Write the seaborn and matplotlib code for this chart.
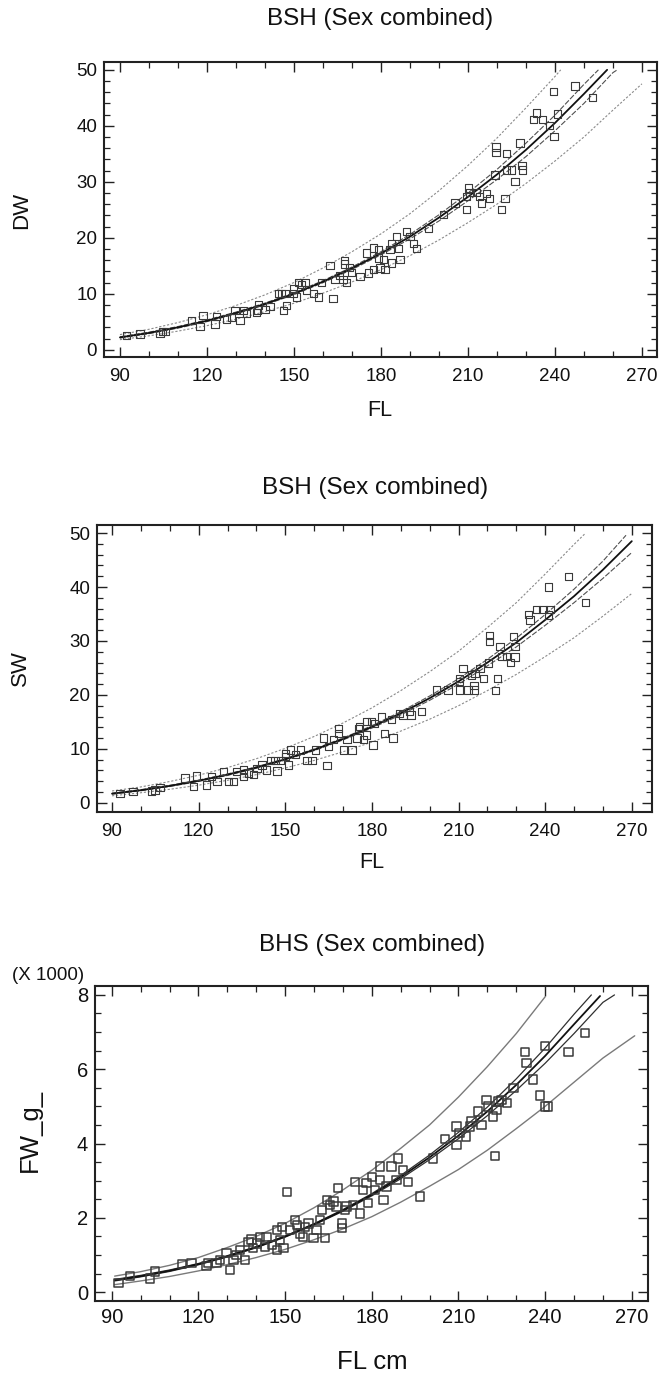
import matplotlib
matplotlib.use("Agg")
import matplotlib.pyplot as plt
from matplotlib.ticker import MultipleLocator
import numpy as np
import pandas as pd
import seaborn as sns

# ---------------- data: panel 1 (BSH, DW vs FL) ----------------
p1_fl = [92.3, 96.9, 103.8, 104.7, 105.8, 114.7, 117.6, 118.7, 122.8, 123.3, 126.8, 128.5,
         129.7, 131.4, 132.5, 133.7, 137.2, 137.4, 137.7, 140.0, 141.7, 144.6, 145.7, 146.9,
         146.5, 147.5, 149.8, 149.8, 150.9, 151.5, 152.6, 153.8, 154.4, 156.7, 158.4, 159.5,
         162.4, 163.5, 164.1, 165.8, 166.9, 167.5, 167.5, 168.1, 169.2, 169.8,
         172.8, 175.1, 175.6, 177.4, 177.4, 179.1, 179.1, 179.7, 180.9, 181.4, 183.1, 183.7,
         183.7, 185.4, 186.0, 186.6, 188.9, 190.0, 191.2, 192.3, 196.3, 201.5, 205.5, 209.5,
         209.5, 210.1, 210.7, 213.0, 214.1, 214.7, 216.4, 217.4, 219.3, 219.7, 219.7, 221.6,
         222.8, 223.3, 223.3, 225.1, 226.2, 228.0, 228.7, 228.9, 232.5, 233.7, 235.8, 238.1,
         239.5, 239.7, 240.8, 246.9, 253.0]
p1_dw = [2.5, 2.8, 2.9, 3.2, 3.3, 5.2, 4.2, 6.1, 4.6, 5.9, 5.5, 5.8,
         7.0, 5.2, 7.0, 6.5, 6.6, 7.1, 8.0, 7.2, 7.7, 10.0, 10.0, 10.0,
         7.0, 7.9, 10.9, 10.0, 9.4, 12.0, 11.7, 12.0, 10.7, 10.0, 9.4, 12.0,
         15.0, 9.1, 12.6, 13.3, 12.6, 15.9, 15.3, 12.0, 14.7, 13.8,
         13.1, 17.3, 13.7, 14.3, 18.2, 17.9, 16.4, 14.6, 16.1, 14.3, 17.9, 19.0,
         15.5, 20.2, 18.1, 16.1, 21.1, 20.2, 19.0, 18.1, 21.7, 24.1, 26.2, 25.1,
         27.4, 28.9, 28.1, 28.1, 27.4, 26.2, 27.9, 27.0, 31.2, 36.2, 35.2, 25.0,
         27.0, 32.1, 35.1, 32.1, 30.0, 36.9, 32.9, 32.1, 41.1, 42.3, 41.1, 40.0,
         46.1, 38.1, 42.1, 47.1, 45.1]

p1_fit_fl = [90, 100, 110, 120, 130, 140, 150, 160, 170, 180, 190, 200, 210, 220, 230, 240, 250, 258]
p1_fit = [2.2, 3.0, 4.0, 5.17, 6.56, 8.17, 10.0, 12.15, 14.55, 17.2, 20.2, 23.6, 27.3, 31.3, 35.7, 40.5, 45.7, 50.0]
p1_uconf_fl = [90, 100, 110, 120, 130, 140, 150, 160, 170, 180, 190, 200, 210, 220, 230, 240, 250, 255]
p1_uconf = [2.31, 3.13, 4.14, 5.32, 6.72, 8.33, 10.17, 12.33, 14.77, 17.5, 20.6, 24.1, 28.0, 32.2, 36.9, 41.9, 47.4, 50.0]
p1_lconf_fl = [90, 100, 110, 120, 130, 140, 150, 160, 170, 180, 190, 200, 210, 220, 230, 240, 250, 260, 261.5]
p1_lconf = [2.09, 2.87, 3.86, 5.02, 6.40, 8.01, 9.85, 11.97, 14.33, 16.95, 19.8, 23.0, 26.6, 30.4, 34.5, 39.1, 44.0, 49.5, 50.0]
p1_upred_fl = [90, 100, 110, 120, 130, 140, 150, 160, 170, 180, 190, 200, 210, 220, 230, 240, 242]
p1_upred = [2.7, 3.65, 4.85, 6.25, 7.9, 9.8, 12.0, 14.6, 17.5, 20.7, 24.3, 28.4, 32.9, 37.8, 43.2, 48.8, 50.0]
p1_lpred_fl = [90, 100, 110, 120, 130, 140, 150, 160, 170, 180, 190, 200, 210, 220, 230, 240, 250, 260, 270]
p1_lpred = [1.8, 2.48, 3.32, 4.3, 5.45, 6.8, 8.3, 10.1, 12.1, 14.3, 16.8, 19.6, 22.7, 26.0, 29.7, 33.7, 38.0, 42.8, 47.5]

# ---------------- data: panel 2 (BSH, SW vs FL) ----------------
p2_fl = [92.8, 97.3, 103.7, 104.9, 106.6, 115.3, 118.2, 119.3, 122.8, 124.5, 126.3, 128.6,
         130.3, 132.0, 133.2, 135.5, 135.5, 137.2, 139.0, 140.2, 141.9, 143.6, 144.8, 146.5,
         147.1, 148.3, 150.0, 150.0, 151.2, 151.7, 153.5, 155.2, 157.5, 159.3, 160.4, 163.3,
         164.4, 165.0, 166.7, 168.5, 168.5, 170.2, 171.4, 173.1, 174.8, 175.4,
         175.8, 177.0, 178.1, 180.4, 178.1, 179.8, 181.0, 183.3, 184.4, 186.7, 187.3, 189.6,
         190.8, 193.6, 193.1, 197.1, 202.3, 206.3, 210.4, 210.4, 210.4, 211.6, 213.3, 215.4,
         214.6, 215.7, 215.4, 217.4, 218.6, 220.3, 220.7, 220.7, 222.7, 223.6, 224.4, 225.0,
         226.7, 227.9, 229.0, 229.6, 229.6, 234.2, 234.8, 237.1, 239.2, 241.7, 241.2, 241.2,
         248.1, 253.9]
p2_sw = [1.7, 2.1, 2.2, 2.4, 2.8, 4.6, 3.0, 5.0, 3.3, 4.9, 4.0, 5.8,
         4.0, 4.0, 5.8, 6.1, 4.9, 5.5, 5.2, 6.4, 7.0, 6.1, 7.9, 7.9,
         5.9, 7.9, 9.2, 8.6, 7.0, 9.8, 8.9, 9.8, 7.9, 7.9, 9.8, 12.0,
         6.9, 10.5, 11.7, 13.8, 12.9, 9.8, 11.7, 9.8, 12.0, 13.8,
         14.1, 11.7, 12.6, 10.7, 15.1, 15.1, 14.7, 15.9, 12.9, 15.4, 12.0, 16.6,
         16.3, 16.3, 16.9, 16.9, 20.9, 20.9, 20.9, 22.5, 23.1, 24.9, 20.9, 20.9,
         23.7, 24.0, 21.8, 24.9, 23.1, 25.9, 31.0, 29.9, 20.8, 23.1, 29.0, 27.1,
         27.1, 26.0, 30.8, 29.0, 27.0, 34.9, 33.9, 35.8, 35.8, 35.8, 34.8, 40.0,
         41.9, 37.1]

p2_fit_fl = [90, 100, 110, 120, 130, 140, 150, 160, 170, 180, 190, 200, 210, 220, 230, 240, 250, 260, 270]
p2_fit = [1.7, 2.34, 3.14, 4.09, 5.22, 6.54, 8.07, 9.83, 11.83, 14.08, 16.6, 19.4, 22.5, 26.0, 29.7, 33.9, 38.3, 43.2, 48.5]
p2_uconf_fl = [90, 100, 110, 120, 130, 140, 150, 160, 170, 180, 190, 200, 210, 220, 230, 240, 250, 260, 268]
p2_uconf = [1.79, 2.44, 3.25, 4.21, 5.35, 6.67, 8.2, 9.98, 12.0, 14.3, 16.9, 19.8, 23.0, 26.6, 30.5, 34.9, 39.6, 44.8, 49.6]
p2_lconf_fl = [90, 100, 110, 120, 130, 140, 150, 160, 170, 180, 190, 200, 210, 220, 230, 240, 250, 260, 270]
p2_lconf = [1.61, 2.24, 3.03, 3.97, 5.09, 6.41, 7.94, 9.68, 11.66, 13.86, 16.3, 19.0, 22.0, 25.4, 28.9, 32.9, 37.1, 41.6, 46.4]
p2_upred_fl = [90, 100, 110, 120, 130, 140, 150, 160, 170, 180, 190, 200, 210, 220, 230, 240, 250, 254]
p2_upred = [2.2, 2.95, 3.95, 5.12, 6.53, 8.18, 10.1, 12.3, 14.8, 17.6, 20.8, 24.3, 28.1, 32.5, 37.1, 42.4, 47.9, 50.0]
p2_lpred_fl = [90, 100, 110, 120, 130, 140, 150, 160, 170, 180, 190, 200, 210, 220, 230, 240, 250, 260, 270]
p2_lpred = [1.3, 1.87, 2.51, 3.27, 4.18, 5.23, 6.46, 7.86, 9.46, 11.26, 13.3, 15.5, 18.0, 20.8, 23.8, 27.1, 30.6, 34.6, 38.8]

# ---------------- data: panel 3 (BHS, FW_g_ (x1000) vs FL cm) ----------------
p3_fl = [92.3, 96.3, 103.2, 104.9, 114.2, 117.6, 122.8, 123.4, 126.3, 127.5, 129.7, 130.9,
         132.1, 133.2, 134.4, 136.1, 137.3, 138.4, 139.0, 140.2, 141.3, 143.1, 143.6, 145.4,
         147.1, 147.1, 148.3, 149.4, 148.9, 150.6, 151.7, 153.5, 154.0, 155.2, 156.3, 156.9,
         158.1, 159.8, 160.9, 162.1, 162.7, 163.8, 164.4, 165.5, 166.7, 167.8, 168.4, 169.6,
         169.6, 170.7, 171.3, 173.6, 174.2,
         175.9, 177.0, 178.2, 178.8, 180.0, 181.1, 182.9, 182.9, 184.0, 185.1, 186.8, 189.1,
         188.6, 190.9, 192.6, 196.6, 201.2, 205.3, 209.3, 209.3, 210.4, 212.7, 213.9, 214.5,
         216.8, 218.0, 219.7, 220.3, 222.0, 222.6, 223.2, 223.8, 224.9, 226.7, 229.0, 233.0,
         233.6, 235.9, 238.2, 240.0, 240.0, 241.1, 248.1, 253.9]
p3_fw = [0.25, 0.43, 0.37, 0.55, 0.76, 0.79, 0.70, 0.79, 0.78, 0.86, 1.06, 0.59,
         0.86, 0.99, 1.13, 0.86, 1.35, 1.42, 1.18, 1.31, 1.49, 1.22, 1.49, 1.26,
         1.67, 1.13, 1.40, 1.18, 1.76, 2.70, 1.67, 1.94, 1.81, 1.58, 1.49, 1.76,
         1.85, 1.45, 1.67, 1.94, 2.21, 1.45, 2.48, 2.35, 2.44, 2.30, 2.80, 1.85,
         1.72, 2.21, 2.30, 2.35, 2.97,
         2.12, 2.75, 2.93, 2.39, 3.10, 2.75, 3.38, 3.02, 2.48, 2.84, 3.38, 3.60,
         3.02, 3.29, 2.97, 2.57, 3.60, 4.12, 4.46, 3.96, 4.28, 4.19, 4.46, 4.59,
         4.86, 4.50, 5.18, 5.00, 4.73, 3.66, 4.91, 5.13, 5.18, 5.09, 5.49, 6.47,
         6.16, 5.72, 5.29, 6.63, 5.00, 5.00, 6.47, 6.97]

p3_fit_fl = [91, 100, 110, 120, 130, 140, 150, 160, 170, 180, 190, 200, 210, 220, 230, 240, 250, 259]
p3_fit = [0.32, 0.429, 0.575, 0.752, 0.962, 1.209, 1.495, 1.824, 2.198, 2.621, 3.097, 3.627, 4.213, 4.864, 5.577, 6.358, 7.21, 7.97]
p3_uconf_fl = [91, 100, 110, 120, 130, 140, 150, 160, 170, 180, 190, 200, 210, 220, 230, 240, 250, 256]
p3_uconf = [0.34, 0.45, 0.595, 0.77, 0.98, 1.225, 1.51, 1.84, 2.22, 2.65, 3.14, 3.69, 4.3, 4.98, 5.74, 6.57, 7.48, 8.0]
p3_lconf_fl = [91, 100, 110, 120, 130, 140, 150, 160, 170, 180, 190, 200, 210, 220, 230, 240, 250, 260, 264]
p3_lconf = [0.30, 0.41, 0.555, 0.735, 0.945, 1.193, 1.48, 1.808, 2.175, 2.59, 3.05, 3.565, 4.13, 4.75, 5.43, 6.16, 6.96, 7.80, 8.0]
p3_upred_fl = [91, 100, 110, 120, 130, 140, 150, 160, 170, 180, 190, 200, 210, 220, 230, 240]
p3_upred = [0.43, 0.55, 0.72, 0.93, 1.2, 1.5, 1.85, 2.27, 2.75, 3.28, 3.87, 4.5, 5.25, 6.07, 6.96, 7.95]
p3_lpred_fl = [91, 100, 110, 120, 130, 140, 150, 160, 170, 180, 190, 200, 210, 220, 230, 240, 250, 260, 271]
p3_lpred = [0.2, 0.3, 0.42, 0.57, 0.74, 0.93, 1.15, 1.41, 1.7, 2.03, 2.42, 2.85, 3.3, 3.82, 4.4, 5.0, 5.65, 6.3, 6.9]

x_ticks = [90, 120, 150, 180, 210, 240, 270]

# ---------------- style ----------------
sns.set_theme(style="ticks")
plt.rcParams["font.family"] = ["Liberation Sans", "DejaVu Sans"]
TXT = "#111111"

W, H = 660, 1379
fig = plt.figure(figsize=(W / 100, H / 100), dpi=100)
fig.patch.set_facecolor("white")


def frac_rect(l, t, r, b):
    return [l / W, 1 - b / H, (r - l) / W, (b - t) / H]


def style_axes(ax, xlim, ylim, ymin, yticks, tick_size, xpad):
    ax.set_xlim(*xlim)
    ax.set_ylim(*ylim)
    ax.set_xticks(x_ticks)
    ax.xaxis.set_minor_locator(MultipleLocator(10))
    ax.set_yticks(yticks)
    ax.yaxis.set_minor_locator(MultipleLocator(ymin))
    ax.tick_params(which="both", direction="in", top=True, right=True,
                   colors="#222222", labelcolor=TXT)
    ax.tick_params(which="major", length=7, width=1.0, labelsize=tick_size)
    ax.tick_params(which="minor", length=4, width=0.9)
    ax.tick_params(axis="x", which="major", pad=xpad)
    ax.tick_params(axis="y", which="major", pad=5)
    for s in ax.spines.values():
        s.set_linewidth(1.5)
        s.set_color("#222222")
    ax.set_xlabel("")
    ax.set_ylabel("")
    ax.set_facecolor("white")


def draw_curves(ax, curves):
    for fl, vals, color, lw, ls in curves:
        sns.lineplot(x=fl, y=vals, ax=ax, color=color, linewidth=lw,
                     linestyle=ls, estimator=None, sort=False, legend=False)


def draw_points(ax, fl, vals, size, lw):
    df = pd.DataFrame({"FL": fl, "V": vals})
    sns.scatterplot(data=df, x="FL", y="V", ax=ax, marker="s", s=size,
                    facecolors="none", edgecolors="#3a3a3a", linewidths=lw,
                    legend=False, zorder=3)


dot = (0, (2.0, 1.6))
dash = (0, (5.0, 1.5))

# Panel 1
ax1 = fig.add_axes(frac_rect(104, 62, 657, 357))
draw_curves(ax1, [
    (p1_upred_fl, p1_upred, "#8a8a8a", 0.8, dot),
    (p1_lpred_fl, p1_lpred, "#8a8a8a", 0.8, dot),
    (p1_uconf_fl, p1_uconf, "#505050", 0.8, dash),
    (p1_lconf_fl, p1_lconf, "#505050", 0.8, dash),
    (p1_fit_fl, p1_fit, "#111111", 1.3, "-"),
])
draw_points(ax1, p1_fl, p1_dw, 28, 0.8)
style_axes(ax1, (84.5, 275.2), (-1.3, 51.4), 2, [0, 10, 20, 30, 40, 50], 13.5, 8)

# Panel 2
ax2 = fig.add_axes(frac_rect(97, 525, 652, 812))
draw_curves(ax2, [
    (p2_upred_fl, p2_upred, "#8a8a8a", 0.8, dot),
    (p2_lpred_fl, p2_lpred, "#8a8a8a", 0.8, dot),
    (p2_uconf_fl, p2_uconf, "#505050", 0.8, dash),
    (p2_lconf_fl, p2_lconf, "#505050", 0.8, dash),
    (p2_fit_fl, p2_fit, "#111111", 1.3, "-"),
])
draw_points(ax2, p2_fl, p2_sw, 28, 0.8)
style_axes(ax2, (84.8, 277.0), (-1.7, 51.5), 2, [0, 10, 20, 30, 40, 50], 13.5, 8)

# Panel 3
ax3 = fig.add_axes(frac_rect(95, 986, 648, 1301))
draw_curves(ax3, [
    (p3_upred_fl, p3_upred, "#7a7a7a", 1.0, "-"),
    (p3_lpred_fl, p3_lpred, "#7a7a7a", 1.0, "-"),
    (p3_uconf_fl, p3_uconf, "#303030", 0.9, "-"),
    (p3_lconf_fl, p3_lconf, "#303030", 0.9, "-"),
    (p3_fit_fl, p3_fit, "#111111", 1.3, "-"),
])
draw_points(ax3, p3_fl, p3_fw, 36, 1.1)
style_axes(ax3, (84.2, 275.6), (-0.24, 8.24), 0.5, [0, 2, 4, 6, 8], 14.5, 5)

# ---------------- texts ----------------
def ftext(x, y, s, size, **kw):
    fig.text(x / W, 1 - y / H, s, fontsize=size, color=TXT, ha="center", va="center", **kw)

ftext(380, 19, "BSH (Sex combined)", 17.5)
ftext(380, 410, "FL", 15.5)
ftext(22, 210, "DW", 16, rotation=90)

ftext(375, 488, "BSH (Sex combined)", 17.5)
ftext(372, 862, "FL", 15.5)
ftext(20, 668, "SW", 16, rotation=90)

ftext(372, 945, "BHS (Sex combined)", 17.5)
ftext(372, 1362, "FL cm", 18.5)
ftext(30, 1130, "FW_g_", 18.5, rotation=90)
fig.text(12 / W, 1 - 975 / H, "(X 1000)", fontsize=13.5, color=TXT, ha="left", va="center")

fig.savefig("out.png", dpi=100, facecolor="white")
